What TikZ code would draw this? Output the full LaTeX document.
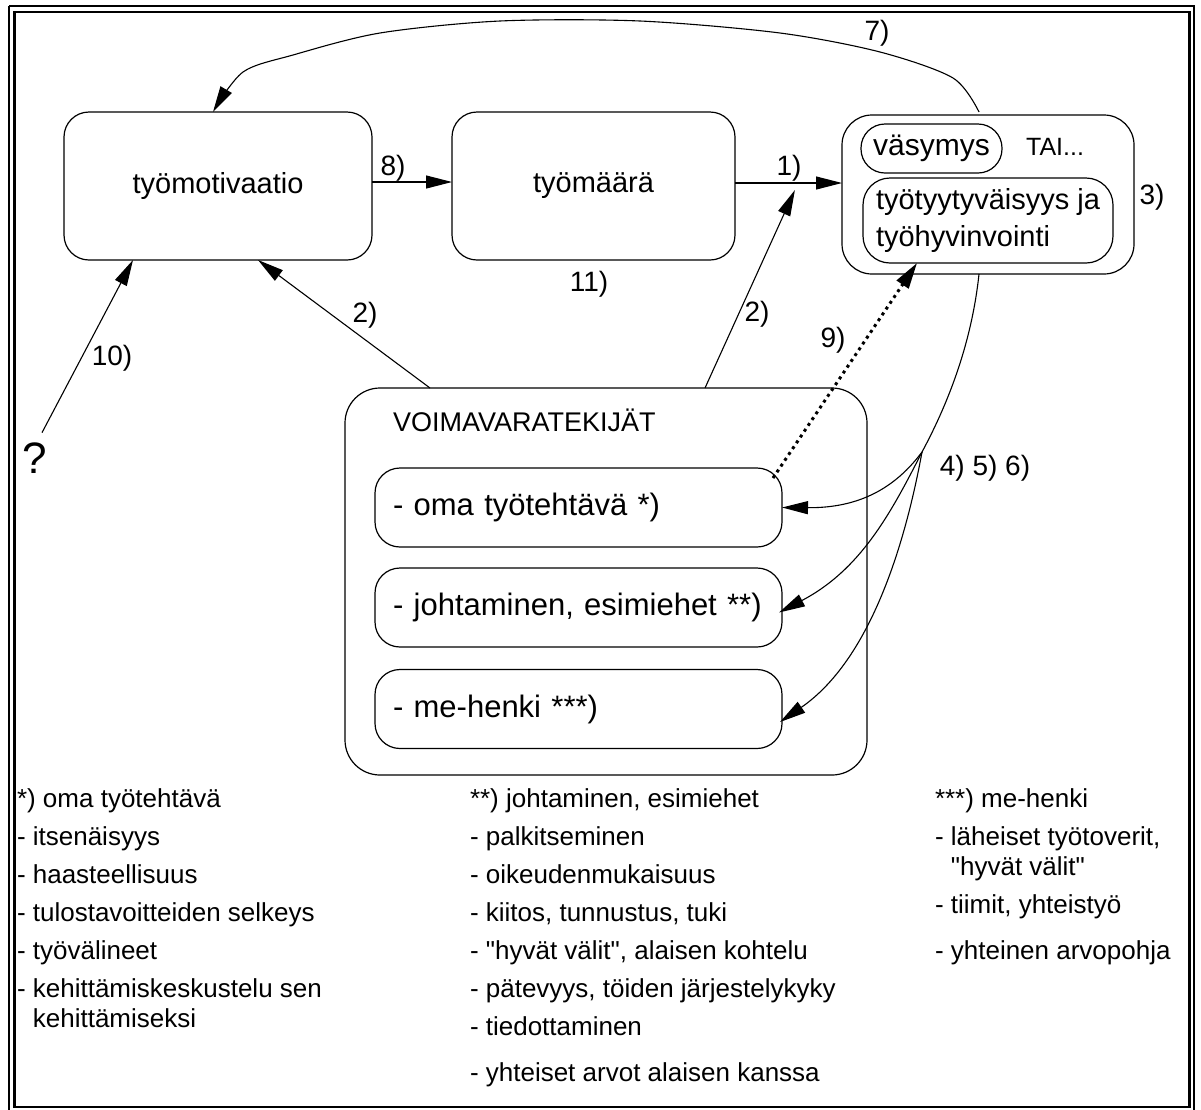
\documentclass[tikz,border=0pt]{standalone}
\usepackage{fontspec}
\setmainfont{Liberation Sans}[Ligatures=TeXOff]
\usetikzlibrary{arrows.meta,calc}

\begin{document}
\begin{tikzpicture}[x=1pt,y=-1pt,
  every node/.style={inner sep=0pt, outer sep=0pt},
  card/.style={draw, line width=1.2pt, rounded corners=#1},
  card/.default=25pt,
  conn/.style={line width=1.1pt, -{Triangle[length=26pt,width=13pt]}},
  dotconn/.style={line width=3pt, dash pattern=on 3pt off 4pt, -{Triangle[length=26pt,width=14pt]}},
  lbl/.style={font=\fontsize{28}{32}\selectfont},
  note/.style={align=left, anchor=north west, font=\fontsize{26}{38}\selectfont},
  frame/.style={line width=2.3pt},
]
\useasboundingbox (0,0) rectangle (1201,1109);

% double outer frame
\draw[frame] (9,6) -- (9,1120) (1194,1120) -- (1194,6) -- (9,6);
\draw[frame] (14.5,11.7) rectangle (1189.5,1107);

% main boxes
\node[card, minimum width=308pt, minimum height=148pt,
      font=\fontsize{29}{34}\selectfont] (mot) at (218,186) {työmotivaatio};
\node[card, minimum width=283pt, minimum height=148pt,
      font=\fontsize{29}{34}\selectfont] (maara) at (593.5,186) {työmäärä};

% outcome box
\node[card=30pt, minimum width=292pt, minimum height=159pt] (res) at (988,194.5) {};
\node[card=24pt, minimum width=141pt, minimum height=49pt,
      font=\fontsize{30}{34}\selectfont] (vas) at (931.5,148.5) {väsymys};
\node[font=\fontsize{25}{30}\selectfont] (tai) at (1055,147) {TAI...};
\node[card=27pt, minimum width=250pt, minimum height=85pt, align=left,
      font=\fontsize{29}{37}\selectfont] (hyv) at (988,220.5) {työtyytyväisyys ja\\työhyvinvointi};
\node[lbl] (n3) at (1152,197) {3)};

% resource factors
\node[card=35pt, minimum width=522pt, minimum height=387pt] (voima) at (606,581.5) {};
\node[anchor=west, font=\fontsize{27}{32}\selectfont] (voimat) at (393,420) {VOIMAVARATEKIJÄT};
\node[card, minimum width=407pt, minimum height=79pt, text width=371pt, align=left,
      font=\fontsize{31}{36}\selectfont] (oma) at (578.5,507.5) {- oma työtehtävä *)};
\node[card, minimum width=407pt, minimum height=79pt, text width=371pt, align=left,
      font=\fontsize{31}{36}\selectfont] (joh) at (578.5,607.5) {- johtaminen, esimiehet **)};
\node[card, minimum width=407pt, minimum height=79pt, text width=371pt, align=left,
      font=\fontsize{31}{36}\selectfont] (meh) at (578.5,709) {- me-henki ***)};

% question mark source
\node[font=\fontsize{44}{50}\selectfont] (q) at (35,458) {?};

% helper points
\coordinate (a1s) at ([yshift=3pt]maara.east);
\coordinate (a1m) at ($(a1s)!0.56!(a1s -| res.west) + (0,7)$);
\coordinate (s7) at ($(res.north)+(-9,-3)$);
\coordinate (e7) at ($(mot.north)+(-5,0)$);
\coordinate (j) at (922,452);

% connectors
\draw[conn] ([yshift=4pt]mot.east) -- ([yshift=4pt]maara.west);
\draw[conn] (a1s) -- (a1s -| res.west);
\draw[conn] ($(voima.north west)+(85,0)$) -- ($(mot.south)+(40,0)$);
\draw[conn] ($(voima.north west)+(360,0)$) -- (a1m);
\draw[conn] ([xshift=7pt,yshift=10pt]q.north) -- ($(mot.south)+(-85,0)$);
\draw[dotconn] ($(oma.north east)+(-9,10)$) -- ($(hyv.south)+(-71,0)$);
\draw[conn] plot[smooth, tension=0.5] coordinates {(s7) (953,78) (880,52) (780,33) (640,21) (500,21) (380,33) (293,55) (243,72) (e7)};
\draw[line width=1.1pt] ($(res.south)+(-9,0)$) .. controls (972,340) and (950,400) .. (j);
\draw[conn] (j) .. controls (890,495) and (850,508) .. (oma.east);
\draw[conn] (j) .. controls (890,515) and (860,570) .. ($(joh.east)+(-3,5)$);
\draw[conn] (j) .. controls (905,545) and (870,660) .. ($(meh.east)+(-2,13)$);

% connector labels
\node[lbl] (l8) at (393,168) {8)};
\node[lbl] (l1) at (789,168) {1)};
\node[lbl] (l7) at (877,33) {7)};
\node[lbl] (l11) at (589,284) {11)};
\node[lbl] (l2a) at (365,315) {2)};
\node[lbl] (l2b) at (757,314) {2)};
\node[lbl] (l9) at (833,340) {9)};
\node[lbl] (l10) at (112,358) {10)};
\node[lbl] (l456) at (985,468) {4) 5) 6)};

% footnotes
\node[note] (c1) at (17,789) {*) oma työtehtävä\\
- itsenäisyys\\
- haasteellisuus\\
- tulostavoitteiden selkeys\\
- työvälineet\\
- kehittämiskeskustelu sen\\[-8pt]
\hphantom{- }kehittämiseksi};
\node[note] (c2) at (470,789) {**) johtaminen, esimiehet\\
- palkitseminen\\
- oikeudenmukaisuus\\
- kiitos, tunnustus, tuki\\
- "hyvät välit", alaisen kohtelu\\
- pätevyys, töiden järjestelykyky\\
- tiedottaminen\\[8pt]
- yhteiset arvot alaisen kanssa};
\node[note] (c3) at (935,789) {***) me-henki\\
- läheiset työtoverit,\\[-8pt]
\hphantom{- }"hyvät välit"\\
- tiimit, yhteistyö\\[8pt]
- yhteinen arvopohja};
\end{tikzpicture}
\end{document}
